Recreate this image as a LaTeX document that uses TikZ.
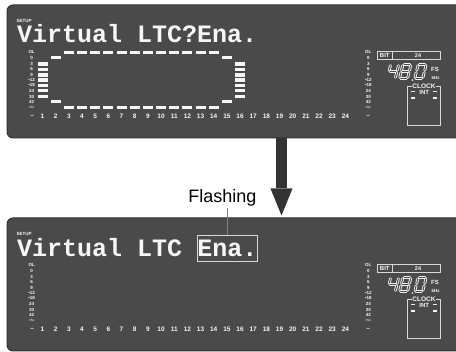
\documentclass[tikz,border=0pt]{standalone}
\usepackage{fontspec}
\setmainfont{Liberation Sans}
\newfontfamily\lcdfont{Liberation Mono}
\usepackage{tikz}
\usetikzlibrary{arrows.meta}
\usepackage{xcolor}
\definecolor{panelgray}{RGB}{74,74,74}
\definecolor{lcdwhite}{RGB}{246,246,246}

\tikzset{
  panel/.style={fill=panelgray,draw=black!80,line width=1pt,rounded corners=6pt},
  lcdtitle/.style={text=lcdwhite,font=\lcdfont\bfseries\fontsize{25}{25}\selectfont,inner sep=0pt,anchor=base west},
  tinylbl/.style={text=lcdwhite,font=\bfseries\fontsize{4.5}{4.5}\selectfont,inner sep=0pt},
  chnum/.style={text=lcdwhite,font=\bfseries\fontsize{6.5}{6.5}\selectfont,inner sep=0pt},
  lcdbox/.style={draw=white!85!black,line width=0.8pt},
  segline/.style={draw=lcdwhite,line width=0.9pt,double=panelgray,double distance=1pt,line cap=round,shorten <=1.2pt,shorten >=1.2pt},
  bigarrow/.style={draw=black!80,line width=11pt,-{Triangle[width=22pt,length=27pt,line width=0pt]}},
  flashlbl/.style={font=\fontsize{18}{18}\selectfont,inner sep=1pt},
  flashline/.style={draw=black!50,line width=1pt}
}

\newcommand{\segdigit}[2]{%
  \begin{scope}[shift={#1},xslant=0.25]
    \foreach \xa/\ya/\xb/\yb in {#2} \draw[segline] (\xa,\ya) -- (\xb,\yb);
  \end{scope}}

\newcommand{\lcdpanel}[1]{%
  \begin{scope}[shift={(0,#1)}]
    \draw[panel] (7,5) rectangle (470,138);
    \node[tinylbl,anchor=base west] at (16.5,22.5) {SETUP};
    \foreach \lab/\yy in {OL/52.3,0/58.3,3/63.8,6/69.3,9/74.8,\textbullet12/80,\textbullet18/85.3,24/91,30/96.5,42/102,$\infty$/107.5}{
      \node[tinylbl] at (31.7,\yy) {\lab};
      \node[tinylbl] at (368.3,\yy) {\lab};
    }
    \foreach \n in {1,...,24} \node[chnum] at ({42.5+13.17*(\n-1)},116) {\n};
    \node[chnum] at (32.3,116) {\textendash};
    \node[chnum] at (368.3,116) {\textendash};
    \draw[lcdbox] (377.3,51.7) rectangle (440,59);
    \draw[lcdbox] (392.3,51.7) -- (392.3,59);
    \node[tinylbl,font=\bfseries\fontsize{6}{6}\selectfont] at (384.8,55.4) {BIT};
    \node[tinylbl,font=\bfseries\fontsize{5.5}{5.5}\selectfont] at (418,55.4) {24};
    \segdigit{(390.7,64.5)}{0/0/0/7,0/7/8/7,8/0/8/7,8/7/8/14}
    \segdigit{(403,64.5)}{0/0/8/0,8/0/8/7,8/7/8/14,0/14/8/14,0/7/0/14,0/0/0/7,0/7/8/7}
    \segdigit{(418.2,64.5)}{0/0/8/0,8/0/8/7,8/7/8/14,0/14/8/14,0/7/0/14,0/0/0/7}
    \fill[lcdwhite] (412.5,80) circle (0.9pt);
    \node[tinylbl,font=\bfseries\fontsize{6}{6}\selectfont] at (435,69) {FS};
    \node[tinylbl] at (435.5,77.7) {kHz};
    \draw[lcdbox] (407.7,86.7) rectangle (440,125);
    \node[tinylbl,fill=panelgray,inner xsep=0.8pt,inner ysep=0.5pt,font=\bfseries\fontsize{6.5}{6.5}\selectfont] at (424,86.7) {CLOCK};
    \node[tinylbl,font=\bfseries\fontsize{6}{6}\selectfont] at (424.3,92.5) {INT};
    \foreach \xx in {413.3,435} \foreach \yy in {91.7,98.3}
      \fill[lcdwhite] ({\xx-2},{\yy-0.8}) rectangle +(4,1.6);
  \end{scope}}

\begin{document}
\begin{tikzpicture}[x=1pt,y=-1pt,>=Latex]
  \useasboundingbox (0,0) rectangle (456,352);
  \clip (0,0) rectangle (456,352);
  \lcdpanel{0}
  \lcdpanel{213}
  \node[lcdtitle] (topmsg) at (17,43) {Virtual LTC?Ena.};
  \foreach \n in {3,...,14} \foreach \yy in {52.3,107.3}
    \fill[lcdwhite] ({42.5+13.17*(\n-1)-5},{\yy-1.6}) rectangle +(10,3.2);
  \foreach \n in {2,15} \foreach \yy in {57.8,101.8}
    \fill[lcdwhite] ({42.5+13.17*(\n-1)-5},{\yy-1.6}) rectangle +(10,3.2);
  \foreach \n in {1,16} \foreach \yy in {64,69.5,75,80,85.3,90.3,96.5}
    \fill[lcdwhite] ({42.5+13.17*(\n-1)-5},{\yy-1.6}) rectangle +(10,3.2);
  \node[lcdtitle] (botmsg) at (17,256.5) {Virtual LTC};
  \node[lcdtitle,lcdbox,inner ysep=5pt] (enabox) at (197,256.5) {Ena.};
  \node[flashlbl,anchor=base] (flashtxt) at (222.5,203) {Flashing};
  \draw[flashline] (enabox.north) -- (enabox.north |- flashtxt.south);
  \coordinate (arrtop) at (281.5,138.5);
  \coordinate (arrtip) at (281.5,215.5);
  \draw[bigarrow] (arrtop) -- (arrtip);
\end{tikzpicture}
\end{document}
